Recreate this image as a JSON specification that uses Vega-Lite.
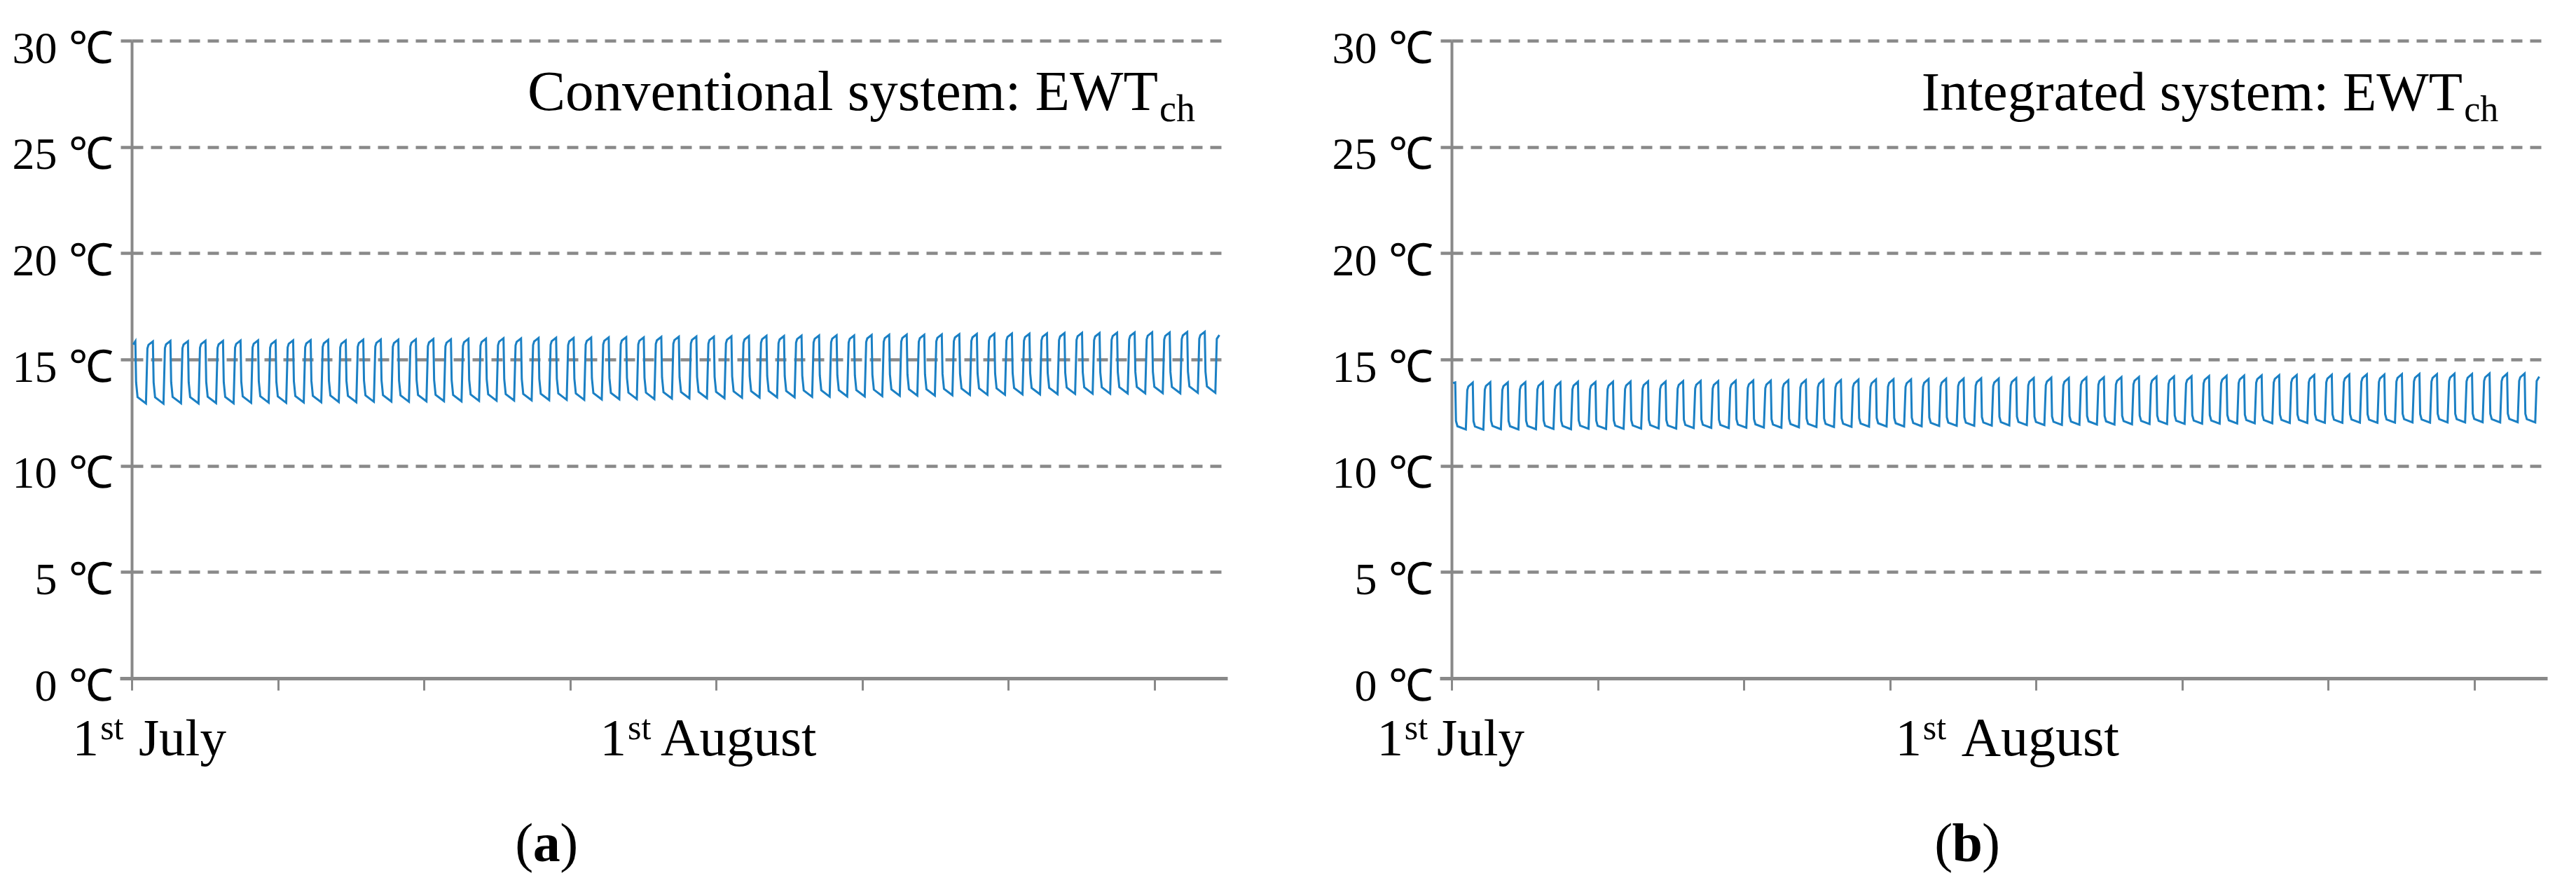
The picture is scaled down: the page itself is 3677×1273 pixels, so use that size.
{
"$schema": "https://vega.github.io/schema/vega-lite/v6.json",
"background": "white",
"padding": {"left": 17, "top": 38, "right": 38, "bottom": 0},
"config": {"view": {"stroke": null}, "font": "Liberation Serif", "concat": {"spacing": 149}},
"datasets": {
"a": [{"h":2,"t":15.7},
{"h":5,"t":15.86},{"h":6,"t":13.93},{"h":8,"t":13.23},{"h":19.5,"t":12.93},{"h":21.5,"t":15.52},{"h":23,"t":15.69},
{"h":29,"t":15.85},{"h":30,"t":13.92},{"h":32,"t":13.22},{"h":43.5,"t":12.92},{"h":45.5,"t":15.54},{"h":47,"t":15.71},
{"h":53,"t":15.87},{"h":54,"t":13.94},{"h":56,"t":13.24},{"h":67.5,"t":12.94},{"h":69.5,"t":15.53},{"h":71,"t":15.7},
{"h":77,"t":15.86},{"h":78,"t":13.93},{"h":80,"t":13.23},{"h":91.5,"t":12.93},{"h":93.5,"t":15.55},{"h":95,"t":15.72},
{"h":101,"t":15.88},{"h":102,"t":13.95},{"h":104,"t":13.25},{"h":115.5,"t":12.95},{"h":117.5,"t":15.54},{"h":119,"t":15.71},
{"h":125,"t":15.87},{"h":126,"t":13.94},{"h":128,"t":13.24},{"h":139.5,"t":12.94},{"h":141.5,"t":15.56},{"h":143,"t":15.73},
{"h":149,"t":15.89},{"h":150,"t":13.96},{"h":152,"t":13.26},{"h":163.5,"t":12.96},{"h":165.5,"t":15.57},{"h":167,"t":15.74},
{"h":173,"t":15.9},{"h":174,"t":13.97},{"h":176,"t":13.27},{"h":187.5,"t":12.97},{"h":189.5,"t":15.55},{"h":191,"t":15.72},
{"h":197,"t":15.88},{"h":198,"t":13.96},{"h":200,"t":13.26},{"h":211.5,"t":12.96},{"h":213.5,"t":15.57},{"h":215,"t":15.74},
{"h":221,"t":15.9},{"h":222,"t":13.98},{"h":224,"t":13.28},{"h":235.5,"t":12.98},{"h":237.5,"t":15.58},{"h":239,"t":15.75},
{"h":245,"t":15.91},{"h":246,"t":13.99},{"h":248,"t":13.29},{"h":259.5,"t":12.99},{"h":261.5,"t":15.59},{"h":263,"t":15.76},
{"h":269,"t":15.92},{"h":270,"t":14.0},{"h":272,"t":13.3},{"h":283.5,"t":13.0},{"h":285.5,"t":15.57},{"h":287,"t":15.74},
{"h":293,"t":15.9},{"h":294,"t":13.99},{"h":296,"t":13.29},{"h":307.5,"t":12.99},{"h":309.5,"t":15.6},{"h":311,"t":15.77},
{"h":317,"t":15.93},{"h":318,"t":14.01},{"h":320,"t":13.31},{"h":331.5,"t":13.01},{"h":333.5,"t":15.61},{"h":335,"t":15.78},
{"h":341,"t":15.94},{"h":342,"t":14.02},{"h":344,"t":13.32},{"h":355.5,"t":13.02},{"h":357.5,"t":15.6},{"h":359,"t":15.77},
{"h":365,"t":15.93},{"h":366,"t":14.01},{"h":368,"t":13.31},{"h":379.5,"t":13.01},{"h":381.5,"t":15.62},{"h":383,"t":15.79},
{"h":389,"t":15.95},{"h":390,"t":14.03},{"h":392,"t":13.33},{"h":403.5,"t":13.03},{"h":405.5,"t":15.63},{"h":407,"t":15.8},
{"h":413,"t":15.96},{"h":414,"t":14.04},{"h":416,"t":13.34},{"h":427.5,"t":13.04},{"h":429.5,"t":15.62},{"h":431,"t":15.79},
{"h":437,"t":15.95},{"h":438,"t":14.03},{"h":440,"t":13.33},{"h":451.5,"t":13.03},{"h":453.5,"t":15.64},{"h":455,"t":15.81},
{"h":461,"t":15.97},{"h":462,"t":14.05},{"h":464,"t":13.35},{"h":475.5,"t":13.05},{"h":477.5,"t":15.65},{"h":479,"t":15.82},
{"h":485,"t":15.98},{"h":486,"t":14.06},{"h":488,"t":13.36},{"h":499.5,"t":13.06},{"h":501.5,"t":15.67},{"h":503,"t":15.84},
{"h":509,"t":16.0},{"h":510,"t":14.07},{"h":512,"t":13.37},{"h":523.5,"t":13.07},{"h":525.5,"t":15.66},{"h":527,"t":15.83},
{"h":533,"t":15.99},{"h":534,"t":14.08},{"h":536,"t":13.38},{"h":547.5,"t":13.08},{"h":549.5,"t":15.68},{"h":551,"t":15.85},
{"h":557,"t":16.01},{"h":558,"t":14.09},{"h":560,"t":13.39},{"h":571.5,"t":13.09},{"h":573.5,"t":15.69},{"h":575,"t":15.86},
{"h":581,"t":16.02},{"h":582,"t":14.1},{"h":584,"t":13.4},{"h":595.5,"t":13.1},{"h":597.5,"t":15.68},{"h":599,"t":15.85},
{"h":605,"t":16.01},{"h":606,"t":14.1},{"h":608,"t":13.4},{"h":619.5,"t":13.1},{"h":621.5,"t":15.7},{"h":623,"t":15.87},
{"h":629,"t":16.03},{"h":630,"t":14.12},{"h":632,"t":13.42},{"h":643.5,"t":13.12},{"h":645.5,"t":15.71},{"h":647,"t":15.88},
{"h":653,"t":16.04},{"h":654,"t":14.13},{"h":656,"t":13.43},{"h":667.5,"t":13.13},{"h":669.5,"t":15.72},{"h":671,"t":15.89},
{"h":677,"t":16.05},{"h":678,"t":14.14},{"h":680,"t":13.44},{"h":691.5,"t":13.14},{"h":693.5,"t":15.71},{"h":695,"t":15.88},
{"h":701,"t":16.04},{"h":702,"t":14.14},{"h":704,"t":13.44},{"h":715.5,"t":13.14},{"h":717.5,"t":15.73},{"h":719,"t":15.9},
{"h":725,"t":16.06},{"h":726,"t":14.16},{"h":728,"t":13.46},{"h":739.5,"t":13.16},{"h":741.5,"t":15.74},{"h":743,"t":15.91},
{"h":749,"t":16.07},{"h":750,"t":14.17},{"h":752,"t":13.47},{"h":763.5,"t":13.17},{"h":765.5,"t":15.75},{"h":767,"t":15.92},
{"h":773,"t":16.08},{"h":774,"t":14.18},{"h":776,"t":13.48},{"h":787.5,"t":13.18},{"h":789.5,"t":15.74},{"h":791,"t":15.91},
{"h":797,"t":16.07},{"h":798,"t":14.18},{"h":800,"t":13.48},{"h":811.5,"t":13.18},{"h":813.5,"t":15.76},{"h":815,"t":15.93},
{"h":821,"t":16.09},{"h":822,"t":14.2},{"h":824,"t":13.5},{"h":835.5,"t":13.2},{"h":837.5,"t":15.77},{"h":839,"t":15.94},
{"h":845,"t":16.1},{"h":846,"t":14.21},{"h":848,"t":13.51},{"h":859.5,"t":13.21},{"h":861.5,"t":15.78},{"h":863,"t":15.95},
{"h":869,"t":16.11},{"h":870,"t":14.22},{"h":872,"t":13.52},{"h":883.5,"t":13.22},{"h":885.5,"t":15.77},{"h":887,"t":15.94},
{"h":893,"t":16.1},{"h":894,"t":14.22},{"h":896,"t":13.52},{"h":907.5,"t":13.22},{"h":909.5,"t":15.79},{"h":911,"t":15.96},
{"h":917,"t":16.12},{"h":918,"t":14.24},{"h":920,"t":13.54},{"h":931.5,"t":13.24},{"h":933.5,"t":15.8},{"h":935,"t":15.97},
{"h":941,"t":16.13},{"h":942,"t":14.25},{"h":944,"t":13.55},{"h":955.5,"t":13.25},{"h":957.5,"t":15.81},{"h":959,"t":15.98},
{"h":965,"t":16.14},{"h":966,"t":14.26},{"h":968,"t":13.56},{"h":979.5,"t":13.26},{"h":981.5,"t":15.8},{"h":983,"t":15.97},
{"h":989,"t":16.13},{"h":990,"t":14.26},{"h":992,"t":13.56},{"h":1003.5,"t":13.26},{"h":1005.5,"t":15.82},{"h":1007,"t":15.99},
{"h":1013,"t":16.15},{"h":1014,"t":14.28},{"h":1016,"t":13.58},{"h":1027.5,"t":13.28},{"h":1029.5,"t":15.83},{"h":1031,"t":16.0},
{"h":1037,"t":16.16},{"h":1038,"t":14.29},{"h":1040,"t":13.59},{"h":1051.5,"t":13.29},{"h":1053.5,"t":15.84},{"h":1055,"t":16.01},
{"h":1061,"t":16.17},{"h":1062,"t":14.3},{"h":1064,"t":13.6},{"h":1075.5,"t":13.3},{"h":1077.5,"t":15.83},{"h":1079,"t":16.0},
{"h":1085,"t":16.16},{"h":1086,"t":14.3},{"h":1088,"t":13.6},{"h":1099.5,"t":13.3},{"h":1101.5,"t":15.85},{"h":1103,"t":16.02},
{"h":1109,"t":16.18},{"h":1110,"t":14.32},{"h":1112,"t":13.62},{"h":1123.5,"t":13.32},{"h":1125.5,"t":15.86},{"h":1127,"t":16.03},
{"h":1133,"t":16.19},{"h":1134,"t":14.33},{"h":1136,"t":13.63},{"h":1147.5,"t":13.33},{"h":1149.5,"t":15.87},{"h":1151,"t":16.04},
{"h":1157,"t":16.2},{"h":1158,"t":14.34},{"h":1160,"t":13.64},{"h":1171.5,"t":13.34},{"h":1173.5,"t":15.88},{"h":1175,"t":16.05},
{"h":1181,"t":16.21},{"h":1182,"t":14.34},{"h":1184,"t":13.64},{"h":1195.5,"t":13.34},{"h":1197.5,"t":15.89},{"h":1199,"t":16.06},
{"h":1205,"t":16.22},{"h":1206,"t":14.36},{"h":1208,"t":13.66},{"h":1219.5,"t":13.36},{"h":1221.5,"t":15.88},{"h":1223,"t":16.05},
{"h":1229,"t":16.21},{"h":1230,"t":14.36},{"h":1232,"t":13.66},{"h":1243.5,"t":13.36},{"h":1245.5,"t":15.9},{"h":1247,"t":16.07},
{"h":1253,"t":16.23},{"h":1254,"t":14.37},{"h":1256,"t":13.67},{"h":1267.5,"t":13.37},{"h":1269.5,"t":15.91},{"h":1271,"t":16.08},
{"h":1277,"t":16.24},{"h":1278,"t":14.38},{"h":1280,"t":13.68},{"h":1291.5,"t":13.38},{"h":1293.5,"t":15.92},{"h":1295,"t":16.09},
{"h":1301,"t":16.25},{"h":1302,"t":14.39},{"h":1304,"t":13.69},{"h":1315.5,"t":13.39},{"h":1317.5,"t":15.91},{"h":1319,"t":16.08},
{"h":1325,"t":16.24},{"h":1326,"t":14.39},{"h":1328,"t":13.69},{"h":1339.5,"t":13.39},{"h":1341.5,"t":15.93},{"h":1343,"t":16.1},
{"h":1349,"t":16.26},{"h":1350,"t":14.4},{"h":1352,"t":13.7},{"h":1363.5,"t":13.4},{"h":1365.5,"t":15.94},{"h":1367,"t":16.11},
{"h":1373,"t":16.27},{"h":1374,"t":14.41},{"h":1376,"t":13.71},{"h":1387.5,"t":13.41},{"h":1389.5,"t":15.95},{"h":1391,"t":16.12},
{"h":1397,"t":16.28},{"h":1398,"t":14.42},{"h":1400,"t":13.72},{"h":1411.5,"t":13.42},{"h":1413.5,"t":15.94},{"h":1415,"t":16.11},
{"h":1421,"t":16.27},{"h":1422,"t":14.41},{"h":1424,"t":13.71},{"h":1435.5,"t":13.41},{"h":1437.5,"t":15.96},{"h":1439,"t":16.13},
{"h":1445,"t":16.29},{"h":1446,"t":14.43},{"h":1448,"t":13.73},{"h":1459.5,"t":13.43},{"h":1461.5,"t":15.97},{"h":1463,"t":16.14},
{"h":1469,"t":16.3},{"h":1470,"t":14.43},{"h":1472,"t":13.73},{"h":1483.5,"t":13.43},{"h":1485.5,"t":15.97},{"h":1489,"t":16.15}],
"b": [{"h":2,"t":13.89},
{"h":5,"t":13.92},{"h":6,"t":12.11},{"h":8,"t":11.86},{"h":19.5,"t":11.71},{"h":21.5,"t":13.56},{"h":23,"t":13.73},
{"h":29,"t":13.91},{"h":30,"t":12.1},{"h":32,"t":11.85},{"h":43.5,"t":11.7},{"h":45.5,"t":13.58},{"h":47,"t":13.75},
{"h":53,"t":13.93},{"h":54,"t":12.12},{"h":56,"t":11.87},{"h":67.5,"t":11.72},{"h":69.5,"t":13.57},{"h":71,"t":13.74},
{"h":77,"t":13.92},{"h":78,"t":12.11},{"h":80,"t":11.86},{"h":91.5,"t":11.71},{"h":93.5,"t":13.58},{"h":95,"t":13.75},
{"h":101,"t":13.93},{"h":102,"t":12.12},{"h":104,"t":11.87},{"h":115.5,"t":11.72},{"h":117.5,"t":13.59},{"h":119,"t":13.76},
{"h":125,"t":13.94},{"h":126,"t":12.13},{"h":128,"t":11.88},{"h":139.5,"t":11.73},{"h":141.5,"t":13.58},{"h":143,"t":13.75},
{"h":149,"t":13.93},{"h":150,"t":12.12},{"h":152,"t":11.87},{"h":163.5,"t":11.72},{"h":165.5,"t":13.6},{"h":167,"t":13.77},
{"h":173,"t":13.95},{"h":174,"t":12.14},{"h":176,"t":11.89},{"h":187.5,"t":11.74},{"h":189.5,"t":13.59},{"h":191,"t":13.76},
{"h":197,"t":13.94},{"h":198,"t":12.13},{"h":200,"t":11.88},{"h":211.5,"t":11.73},{"h":213.5,"t":13.6},{"h":215,"t":13.77},
{"h":221,"t":13.95},{"h":222,"t":12.14},{"h":224,"t":11.89},{"h":235.5,"t":11.74},{"h":237.5,"t":13.61},{"h":239,"t":13.78},
{"h":245,"t":13.96},{"h":246,"t":12.15},{"h":248,"t":11.9},{"h":259.5,"t":11.75},{"h":261.5,"t":13.62},{"h":263,"t":13.79},
{"h":269,"t":13.97},{"h":270,"t":12.16},{"h":272,"t":11.91},{"h":283.5,"t":11.76},{"h":285.5,"t":13.61},{"h":287,"t":13.78},
{"h":293,"t":13.96},{"h":294,"t":12.15},{"h":296,"t":11.9},{"h":307.5,"t":11.75},{"h":309.5,"t":13.63},{"h":311,"t":13.8},
{"h":317,"t":13.98},{"h":318,"t":12.17},{"h":320,"t":11.92},{"h":331.5,"t":11.77},{"h":333.5,"t":13.64},{"h":335,"t":13.81},
{"h":341,"t":13.99},{"h":342,"t":12.18},{"h":344,"t":11.93},{"h":355.5,"t":11.78},{"h":357.5,"t":13.63},{"h":359,"t":13.8},
{"h":365,"t":13.98},{"h":366,"t":12.17},{"h":368,"t":11.92},{"h":379.5,"t":11.77},{"h":381.5,"t":13.65},{"h":383,"t":13.82},
{"h":389,"t":14.0},{"h":390,"t":12.19},{"h":392,"t":11.94},{"h":403.5,"t":11.79},{"h":405.5,"t":13.66},{"h":407,"t":13.83},
{"h":413,"t":14.01},{"h":414,"t":12.2},{"h":416,"t":11.95},{"h":427.5,"t":11.8},{"h":429.5,"t":13.65},{"h":431,"t":13.82},
{"h":437,"t":14.0},{"h":438,"t":12.19},{"h":440,"t":11.94},{"h":451.5,"t":11.79},{"h":453.5,"t":13.67},{"h":455,"t":13.84},
{"h":461,"t":14.02},{"h":462,"t":12.21},{"h":464,"t":11.96},{"h":475.5,"t":11.81},{"h":477.5,"t":13.68},{"h":479,"t":13.85},
{"h":485,"t":14.03},{"h":486,"t":12.22},{"h":488,"t":11.97},{"h":499.5,"t":11.82},{"h":501.5,"t":13.69},{"h":503,"t":13.86},
{"h":509,"t":14.04},{"h":510,"t":12.22},{"h":512,"t":11.97},{"h":523.5,"t":11.82},{"h":525.5,"t":13.68},{"h":527,"t":13.85},
{"h":533,"t":14.03},{"h":534,"t":12.23},{"h":536,"t":11.98},{"h":547.5,"t":11.83},{"h":549.5,"t":13.7},{"h":551,"t":13.87},
{"h":557,"t":14.05},{"h":558,"t":12.24},{"h":560,"t":11.99},{"h":571.5,"t":11.84},{"h":573.5,"t":13.71},{"h":575,"t":13.88},
{"h":581,"t":14.06},{"h":582,"t":12.25},{"h":584,"t":12.0},{"h":595.5,"t":11.85},{"h":597.5,"t":13.72},{"h":599,"t":13.89},
{"h":605,"t":14.07},{"h":606,"t":12.25},{"h":608,"t":12.0},{"h":619.5,"t":11.85},{"h":621.5,"t":13.71},{"h":623,"t":13.88},
{"h":629,"t":14.06},{"h":630,"t":12.26},{"h":632,"t":12.01},{"h":643.5,"t":11.86},{"h":645.5,"t":13.73},{"h":647,"t":13.9},
{"h":653,"t":14.08},{"h":654,"t":12.27},{"h":656,"t":12.02},{"h":667.5,"t":11.87},{"h":669.5,"t":13.74},{"h":671,"t":13.91},
{"h":677,"t":14.09},{"h":678,"t":12.28},{"h":680,"t":12.03},{"h":691.5,"t":11.88},{"h":693.5,"t":13.75},{"h":695,"t":13.92},
{"h":701,"t":14.1},{"h":702,"t":12.28},{"h":704,"t":12.03},{"h":715.5,"t":11.88},{"h":717.5,"t":13.76},{"h":719,"t":13.93},
{"h":725,"t":14.11},{"h":726,"t":12.29},{"h":728,"t":12.04},{"h":739.5,"t":11.89},{"h":741.5,"t":13.75},{"h":743,"t":13.92},
{"h":749,"t":14.1},{"h":750,"t":12.3},{"h":752,"t":12.05},{"h":763.5,"t":11.9},{"h":765.5,"t":13.77},{"h":767,"t":13.94},
{"h":773,"t":14.12},{"h":774,"t":12.31},{"h":776,"t":12.06},{"h":787.5,"t":11.91},{"h":789.5,"t":13.78},{"h":791,"t":13.95},
{"h":797,"t":14.13},{"h":798,"t":12.31},{"h":800,"t":12.06},{"h":811.5,"t":11.91},{"h":813.5,"t":13.79},{"h":815,"t":13.96},
{"h":821,"t":14.14},{"h":822,"t":12.32},{"h":824,"t":12.07},{"h":835.5,"t":11.92},{"h":837.5,"t":13.78},{"h":839,"t":13.95},
{"h":845,"t":14.13},{"h":846,"t":12.33},{"h":848,"t":12.08},{"h":859.5,"t":11.93},{"h":861.5,"t":13.8},{"h":863,"t":13.97},
{"h":869,"t":14.15},{"h":870,"t":12.34},{"h":872,"t":12.09},{"h":883.5,"t":11.94},{"h":885.5,"t":13.81},{"h":887,"t":13.98},
{"h":893,"t":14.16},{"h":894,"t":12.34},{"h":896,"t":12.09},{"h":907.5,"t":11.94},{"h":909.5,"t":13.82},{"h":911,"t":13.99},
{"h":917,"t":14.17},{"h":918,"t":12.35},{"h":920,"t":12.1},{"h":931.5,"t":11.95},{"h":933.5,"t":13.83},{"h":935,"t":14.0},
{"h":941,"t":14.18},{"h":942,"t":12.36},{"h":944,"t":12.11},{"h":955.5,"t":11.96},{"h":957.5,"t":13.84},{"h":959,"t":14.01},
{"h":965,"t":14.19},{"h":966,"t":12.36},{"h":968,"t":12.11},{"h":979.5,"t":11.96},{"h":981.5,"t":13.85},{"h":983,"t":14.02},
{"h":989,"t":14.2},{"h":990,"t":12.37},{"h":992,"t":12.12},{"h":1003.5,"t":11.97},{"h":1005.5,"t":13.86},{"h":1007,"t":14.03},
{"h":1013,"t":14.21},{"h":1014,"t":12.38},{"h":1016,"t":12.13},{"h":1027.5,"t":11.98},{"h":1029.5,"t":13.87},{"h":1031,"t":14.04},
{"h":1037,"t":14.22},{"h":1038,"t":12.38},{"h":1040,"t":12.13},{"h":1051.5,"t":11.98},{"h":1053.5,"t":13.88},{"h":1055,"t":14.05},
{"h":1061,"t":14.23},{"h":1062,"t":12.39},{"h":1064,"t":12.14},{"h":1075.5,"t":11.99},{"h":1077.5,"t":13.89},{"h":1079,"t":14.06},
{"h":1085,"t":14.24},{"h":1086,"t":12.4},{"h":1088,"t":12.15},{"h":1099.5,"t":12.0},{"h":1101.5,"t":13.9},{"h":1103,"t":14.07},
{"h":1109,"t":14.25},{"h":1110,"t":12.4},{"h":1112,"t":12.15},{"h":1123.5,"t":12.0},{"h":1125.5,"t":13.91},{"h":1127,"t":14.08},
{"h":1133,"t":14.26},{"h":1134,"t":12.41},{"h":1136,"t":12.16},{"h":1147.5,"t":12.01},{"h":1149.5,"t":13.92},{"h":1151,"t":14.09},
{"h":1157,"t":14.27},{"h":1158,"t":12.41},{"h":1160,"t":12.16},{"h":1171.5,"t":12.01},{"h":1173.5,"t":13.92},{"h":1175,"t":14.09},
{"h":1181,"t":14.27},{"h":1182,"t":12.42},{"h":1184,"t":12.17},{"h":1195.5,"t":12.02},{"h":1197.5,"t":13.93},{"h":1199,"t":14.1},
{"h":1205,"t":14.28},{"h":1206,"t":12.42},{"h":1208,"t":12.17},{"h":1219.5,"t":12.02},{"h":1221.5,"t":13.94},{"h":1223,"t":14.11},
{"h":1229,"t":14.29},{"h":1230,"t":12.43},{"h":1232,"t":12.18},{"h":1243.5,"t":12.03},{"h":1245.5,"t":13.95},{"h":1247,"t":14.12},
{"h":1253,"t":14.3},{"h":1254,"t":12.42},{"h":1256,"t":12.17},{"h":1267.5,"t":12.02},{"h":1269.5,"t":13.94},{"h":1271,"t":14.11},
{"h":1277,"t":14.29},{"h":1278,"t":12.43},{"h":1280,"t":12.18},{"h":1291.5,"t":12.03},{"h":1293.5,"t":13.96},{"h":1295,"t":14.13},
{"h":1301,"t":14.31},{"h":1302,"t":12.44},{"h":1304,"t":12.19},{"h":1315.5,"t":12.04},{"h":1317.5,"t":13.97},{"h":1319,"t":14.14},
{"h":1325,"t":14.32},{"h":1326,"t":12.43},{"h":1328,"t":12.18},{"h":1339.5,"t":12.03},{"h":1341.5,"t":13.96},{"h":1343,"t":14.13},
{"h":1349,"t":14.31},{"h":1350,"t":12.44},{"h":1352,"t":12.19},{"h":1363.5,"t":12.04},{"h":1365.5,"t":13.98},{"h":1367,"t":14.15},
{"h":1373,"t":14.33},{"h":1374,"t":12.44},{"h":1376,"t":12.19},{"h":1387.5,"t":12.04},{"h":1389.5,"t":13.97},{"h":1391,"t":14.14},
{"h":1397,"t":14.32},{"h":1398,"t":12.45},{"h":1400,"t":12.2},{"h":1411.5,"t":12.05},{"h":1413.5,"t":13.99},{"h":1415,"t":14.16},
{"h":1421,"t":14.34},{"h":1422,"t":12.44},{"h":1424,"t":12.19},{"h":1435.5,"t":12.04},{"h":1437.5,"t":13.98},{"h":1439,"t":14.15},
{"h":1445,"t":14.33},{"h":1446,"t":12.45},{"h":1448,"t":12.2},{"h":1459.5,"t":12.05},{"h":1461.5,"t":13.99},{"h":1463,"t":14.16},
{"h":1469,"t":14.34},{"h":1470,"t":12.44},{"h":1472,"t":12.19},{"h":1483.5,"t":12.04},{"h":1485.5,"t":13.99},{"h":1489,"t":14.19}]
},
"hconcat": [
{
"width": 1564, "height": 910,
"layer": [
{"data": {"name": "a"},
 "mark": {"type": "line", "color": "#1b80c4", "strokeWidth": 3},
 "encoding": {
  "x": {"field": "h", "type": "quantitative", "scale": {"domain": [0, 1500], "nice": false, "zero": false},
        "axis": {"values": [0,200,400,600,800,1000,1200,1400], "labels": false, "title": null, "grid": false,
                 "domainColor": "#898989", "domainWidth": 5, "tickColor": "#898989", "tickWidth": 3, "tickSize": 17}},
  "y": {"field": "t", "type": "quantitative", "scale": {"domain": [0, 30], "nice": false},
        "axis": {"values": [0,5,10,15,20,25,30], "title": null, "grid": true, "gridDash": [16, 11], "gridColor": "#898989", "gridWidth": 4.5, "gridOpacity": 1,
                 "domainColor": "#898989", "domainWidth": 4, "tickColor": "#898989", "tickSize": 17,
                 "tickWidth": {"condition": {"test": "datum.value === 0", "value": 5}, "value": 4.5},
                 "tickDash": {"condition": {"test": "datum.value === 0", "value": [1, 0]}, "value": [16, 11]},
                 "labelExpr": "datum.value + ' ℃'", "labelFont": "Liberation Serif", "labelFontSize": 64, "labelColor": "#000000", "labelPadding": 10, "labelOffset": 12}}
 }},
{"data": {"values": [{}]}, "mark": {"type": "text", "align": "right", "baseline": "alphabetic", "font": "Liberation Serif", "fontSize": 81, "color": "#000000"},
 "encoding": {"x": {"datum": 1405}, "y": {"datum": 26.74}, "text": {"value": "Conventional system: EWT"}}},
{"data": {"values": [{}]}, "mark": {"type": "text", "align": "left", "baseline": "alphabetic", "font": "Liberation Serif", "fontSize": 54, "color": "#000000"},
 "encoding": {"x": {"datum": 1407}, "y": {"datum": 26.22}, "text": {"value": "ch"}}},
{"data": {"values": [{}]}, "mark": {"type": "text", "align": "right", "baseline": "alphabetic", "font": "Liberation Serif", "fontSize": 75, "color": "#000000"},
 "encoding": {"x": {"datum": -45}, "y": {"datum": -3.61}, "text": {"value": "1"}}},
{"data": {"values": [{}]}, "mark": {"type": "text", "align": "left", "baseline": "alphabetic", "font": "Liberation Serif", "fontSize": 50, "color": "#000000"},
 "encoding": {"x": {"datum": -43}, "y": {"datum": -2.86}, "text": {"value": "st"}}},
{"data": {"values": [{}]}, "mark": {"type": "text", "align": "left", "baseline": "alphabetic", "font": "Liberation Serif", "fontSize": 75, "color": "#000000"},
 "encoding": {"x": {"datum": 9.5}, "y": {"datum": -3.61}, "text": {"value": "July"}}},
{"data": {"values": [{}]}, "mark": {"type": "text", "align": "right", "baseline": "alphabetic", "font": "Liberation Serif", "fontSize": 75, "color": "#000000"},
 "encoding": {"x": {"datum": 677}, "y": {"datum": -3.61}, "text": {"value": "1"}}},
{"data": {"values": [{}]}, "mark": {"type": "text", "align": "left", "baseline": "alphabetic", "font": "Liberation Serif", "fontSize": 50, "color": "#000000"},
 "encoding": {"x": {"datum": 679}, "y": {"datum": -2.86}, "text": {"value": "st"}}},
{"data": {"values": [{}]}, "mark": {"type": "text", "align": "left", "baseline": "alphabetic", "font": "Liberation Serif", "fontSize": 77, "color": "#000000"},
 "encoding": {"x": {"datum": 724}, "y": {"datum": -3.61}, "text": {"value": "August"}}},
{"data": {"values": [{}]}, "mark": {"type": "text", "align": "right", "baseline": "alphabetic", "font": "Liberation Serif", "fontSize": 78, "color": "#000000", "dx": -19},
 "encoding": {"x": {"datum": 568}, "y": {"datum": -8.61}, "text": {"value": "("}}},
{"data": {"values": [{}]}, "mark": {"type": "text", "align": "center", "baseline": "alphabetic", "font": "Liberation Serif", "fontSize": 78, "fontWeight": "bold", "color": "#000000"},
 "encoding": {"x": {"datum": 568}, "y": {"datum": -8.61}, "text": {"value": "a"}}},
{"data": {"values": [{}]}, "mark": {"type": "text", "align": "left", "baseline": "alphabetic", "font": "Liberation Serif", "fontSize": 78, "color": "#000000", "dx": 19},
 "encoding": {"x": {"datum": 568}, "y": {"datum": -8.61}, "text": {"value": ")"}}}
]
},
{
"width": 1564, "height": 910,
"layer": [
{"data": {"name": "b"},
 "mark": {"type": "line", "color": "#1b80c4", "strokeWidth": 3},
 "encoding": {
  "x": {"field": "h", "type": "quantitative", "scale": {"domain": [0, 1500], "nice": false, "zero": false},
        "axis": {"values": [0,200,400,600,800,1000,1200,1400], "labels": false, "title": null, "grid": false,
                 "domainColor": "#898989", "domainWidth": 5, "tickColor": "#898989", "tickWidth": 3, "tickSize": 17}},
  "y": {"field": "t", "type": "quantitative", "scale": {"domain": [0, 30], "nice": false},
        "axis": {"values": [0,5,10,15,20,25,30], "title": null, "grid": true, "gridDash": [16, 11], "gridColor": "#898989", "gridWidth": 4.5, "gridOpacity": 1,
                 "domainColor": "#898989", "domainWidth": 4, "tickColor": "#898989", "tickSize": 17,
                 "tickWidth": {"condition": {"test": "datum.value === 0", "value": 5}, "value": 4.5},
                 "tickDash": {"condition": {"test": "datum.value === 0", "value": [1, 0]}, "value": [16, 11]},
                 "labelExpr": "datum.value + ' ℃'", "labelFont": "Liberation Serif", "labelFontSize": 64, "labelColor": "#000000", "labelPadding": 10, "labelOffset": 12}}
 }},
{"data": {"values": [{}]}, "mark": {"type": "text", "align": "right", "baseline": "alphabetic", "font": "Liberation Serif", "fontSize": 79, "color": "#000000"},
 "encoding": {"x": {"datum": 1384}, "y": {"datum": 26.72}, "text": {"value": "Integrated system: EWT"}}},
{"data": {"values": [{}]}, "mark": {"type": "text", "align": "left", "baseline": "alphabetic", "font": "Liberation Serif", "fontSize": 52, "color": "#000000"},
 "encoding": {"x": {"datum": 1386}, "y": {"datum": 26.2}, "text": {"value": "ch"}}},
{"data": {"values": [{}]}, "mark": {"type": "text", "align": "right", "baseline": "alphabetic", "font": "Liberation Serif", "fontSize": 75, "color": "#000000"},
 "encoding": {"x": {"datum": -66.2}, "y": {"datum": -3.61}, "text": {"value": "1"}}},
{"data": {"values": [{}]}, "mark": {"type": "text", "align": "left", "baseline": "alphabetic", "font": "Liberation Serif", "fontSize": 50, "color": "#000000"},
 "encoding": {"x": {"datum": -64.5}, "y": {"datum": -2.86}, "text": {"value": "st"}}},
{"data": {"values": [{}]}, "mark": {"type": "text", "align": "left", "baseline": "alphabetic", "font": "Liberation Serif", "fontSize": 75, "color": "#000000"},
 "encoding": {"x": {"datum": -20.2}, "y": {"datum": -3.61}, "text": {"value": "July"}}},
{"data": {"values": [{}]}, "mark": {"type": "text", "align": "right", "baseline": "alphabetic", "font": "Liberation Serif", "fontSize": 75, "color": "#000000"},
 "encoding": {"x": {"datum": 643.5}, "y": {"datum": -3.61}, "text": {"value": "1"}}},
{"data": {"values": [{}]}, "mark": {"type": "text", "align": "left", "baseline": "alphabetic", "font": "Liberation Serif", "fontSize": 50, "color": "#000000"},
 "encoding": {"x": {"datum": 645.2}, "y": {"datum": -2.86}, "text": {"value": "st"}}},
{"data": {"values": [{}]}, "mark": {"type": "text", "align": "left", "baseline": "alphabetic", "font": "Liberation Serif", "fontSize": 78, "color": "#000000"},
 "encoding": {"x": {"datum": 697.9}, "y": {"datum": -3.61}, "text": {"value": "August"}}},
{"data": {"values": [{}]}, "mark": {"type": "text", "align": "right", "baseline": "alphabetic", "font": "Liberation Serif", "fontSize": 78, "color": "#000000", "dx": -21},
 "encoding": {"x": {"datum": 706}, "y": {"datum": -8.61}, "text": {"value": "("}}},
{"data": {"values": [{}]}, "mark": {"type": "text", "align": "center", "baseline": "alphabetic", "font": "Liberation Serif", "fontSize": 78, "fontWeight": "bold", "color": "#000000"},
 "encoding": {"x": {"datum": 706}, "y": {"datum": -8.61}, "text": {"value": "b"}}},
{"data": {"values": [{}]}, "mark": {"type": "text", "align": "left", "baseline": "alphabetic", "font": "Liberation Serif", "fontSize": 78, "color": "#000000", "dx": 21},
 "encoding": {"x": {"datum": 706}, "y": {"datum": -8.61}, "text": {"value": ")"}}}
]
}
]
}
